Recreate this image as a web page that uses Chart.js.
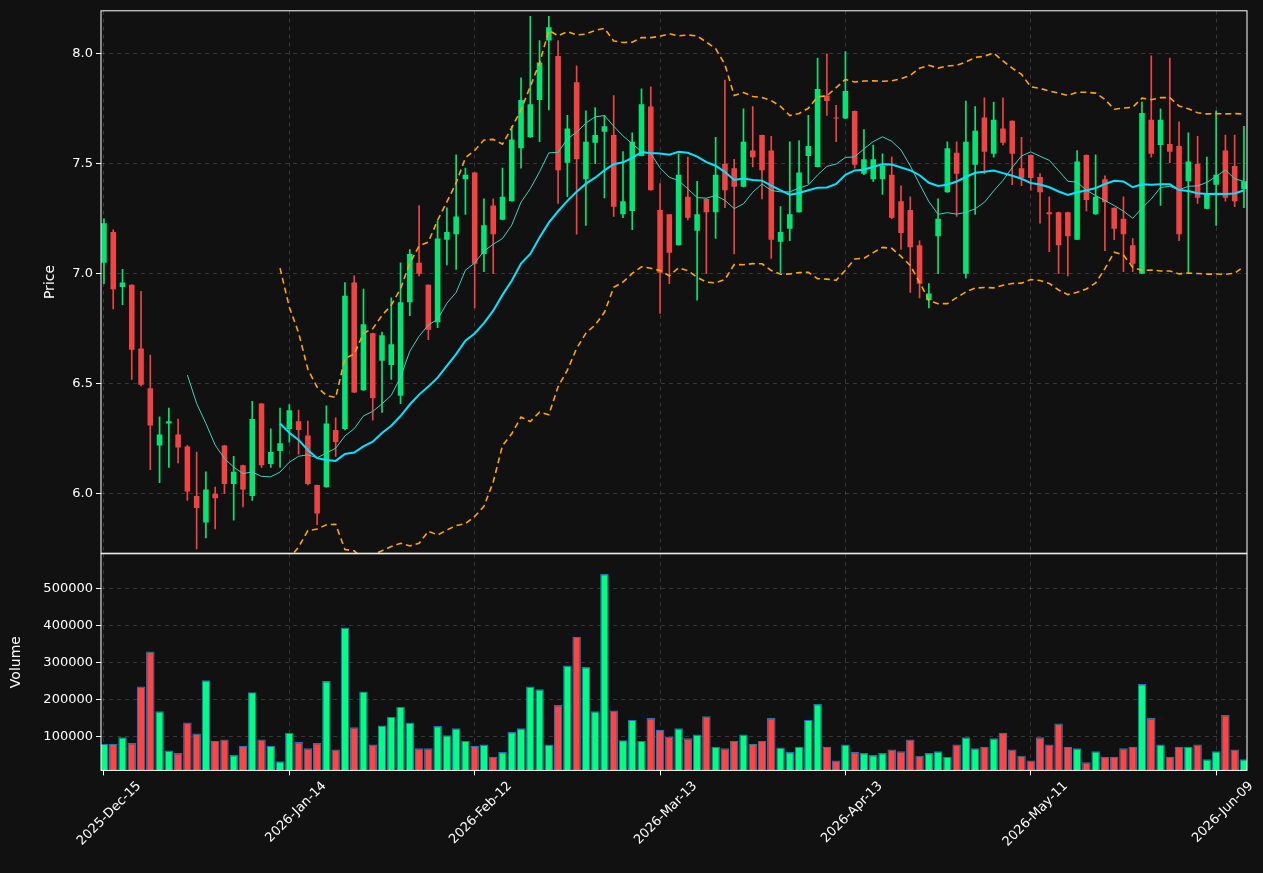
<!DOCTYPE html>
<html>
<head>
<meta charset="utf-8">
<script src="https://cdn.jsdelivr.net/npm/chart.js@4"></script>
<style>
  html, body { margin: 0; padding: 0; background: #111111; }
  #wrap { position: relative; width: 1263px; height: 873px; background: #111111; }
  #priceBox { position: absolute; left: 0; top: 0; width: 1263px; height: 564px; }
  #volBox { position: absolute; left: 0; top: 543px; width: 1263px; height: 330px; }
</style>
</head>
<body>
<div id="wrap">
  <div id="priceBox"><canvas id="priceChart"></canvas></div>
  <div id="volBox"><canvas id="volChart"></canvas></div>
</div>
<script>
// OHLC, one entry per trading day
const opens = [7.05,7.19,6.94,6.95,6.66,6.48,6.22,6.32,6.27,6.215,5.99,5.87,6.0,6.22,6.045,6.13,5.99,6.41,6.135,6.195,
  6.295,6.33,6.265,6.04,6.03,6.29,6.295,6.96,6.47,6.73,6.605,6.585,6.445,6.87,7.05,6.95,6.78,7.155,7.18,7.43,
  7.46,7.09,7.31,7.245,7.33,7.57,7.62,7.79,8.06,7.99,7.505,7.87,7.43,7.595,7.645,7.63,7.27,7.285,7.535,7.76,
  7.29,7.27,7.13,7.35,7.195,7.34,7.28,7.50,7.48,7.395,7.56,7.63,7.56,7.145,7.205,7.28,7.535,7.485,7.81,7.71,
  7.705,7.74,7.455,7.43,7.43,7.45,7.33,7.29,7.13,6.88,7.17,7.37,7.55,7.0,7.495,7.71,7.545,7.66,7.695,7.48,
  7.54,7.44,7.28,7.28,7.28,7.155,7.54,7.27,7.43,7.30,7.25,7.13,7.0,7.70,7.585,7.59,7.58,7.42,7.50,7.295,
  7.405,7.56,7.49,7.385];
const highs = [7.25,7.20,7.02,6.95,6.92,6.63,6.35,6.39,6.34,6.22,6.19,6.10,6.03,6.22,6.17,6.13,6.42,6.41,6.295,6.39,
  6.405,6.38,6.33,6.04,6.40,6.345,6.96,6.99,6.93,6.73,6.735,6.89,7.05,7.11,7.31,6.95,7.24,7.30,7.54,7.48,
  7.46,7.34,7.34,7.48,7.67,7.89,8.17,8.06,8.17,8.06,7.72,7.945,7.74,7.755,7.72,7.81,7.555,7.64,7.84,7.85,
  7.41,7.27,7.545,7.53,7.42,7.34,7.62,7.88,7.52,7.75,7.76,7.63,7.625,7.305,7.60,7.605,7.72,7.98,8.0,7.765,
  8.01,7.74,7.655,7.585,7.545,7.53,7.40,7.35,7.15,6.955,7.34,7.60,7.60,7.785,7.76,7.80,7.78,7.80,7.695,7.62,
  7.54,7.455,7.35,7.28,7.28,7.56,7.54,7.54,7.445,7.30,7.35,7.16,7.78,7.99,7.75,7.98,7.69,7.64,7.625,7.53,
  7.74,7.63,7.63,7.67];
const lows = [6.955,6.84,6.86,6.52,6.49,6.11,6.05,6.12,6.14,5.97,5.75,5.80,5.84,6.0,5.88,5.94,5.97,6.12,6.12,6.12,
  6.235,6.18,6.04,5.86,6.03,6.17,6.29,6.46,6.47,6.335,6.37,6.52,6.41,6.81,6.99,6.70,6.755,7.04,7.02,7.27,
  6.845,7.01,7.0,7.245,7.33,7.48,7.62,7.60,7.745,7.32,7.35,7.18,7.22,7.50,7.345,7.26,7.255,7.20,7.535,7.38,
  6.82,6.955,7.13,7.245,6.88,7.0,7.16,7.30,7.09,7.395,7.485,7.34,7.07,7.005,7.15,7.28,7.41,7.485,7.72,7.60,
  7.705,7.48,7.45,7.42,7.36,7.25,7.11,6.915,6.89,6.845,7.0,7.37,7.26,6.98,7.27,7.455,7.53,7.585,7.405,7.40,
  7.38,7.23,7.10,7.0,6.99,7.155,7.285,7.27,7.105,7.155,7.01,7.01,7.0,7.53,7.31,7.505,7.15,7.0,7.32,7.295,
  7.22,7.33,7.305,7.30];
const closes = [7.23,6.93,6.96,6.655,6.495,6.31,6.27,6.33,6.21,6.01,5.935,6.02,5.98,6.045,6.10,6.02,6.34,6.13,6.19,6.23,
  6.38,6.29,6.045,5.91,6.32,6.235,6.90,6.46,6.77,6.435,6.72,6.68,6.87,7.09,7.0,6.745,7.16,7.19,7.26,7.45,
  7.045,7.22,7.18,7.35,7.61,7.79,7.77,7.96,8.12,7.47,7.66,7.52,7.60,7.63,7.67,7.305,7.33,7.60,7.77,7.38,
  7.005,7.095,7.45,7.255,7.27,7.28,7.45,7.38,7.395,7.60,7.53,7.47,7.155,7.19,7.27,7.46,7.58,7.84,7.785,7.705,
  7.83,7.495,7.52,7.52,7.49,7.255,7.185,7.12,6.955,6.91,7.25,7.57,7.455,7.60,7.65,7.555,7.70,7.595,7.545,7.435,
  7.435,7.37,7.27,7.13,7.17,7.51,7.335,7.35,7.325,7.205,7.18,7.045,7.73,7.545,7.70,7.555,7.18,7.51,7.345,7.36,
  7.45,7.345,7.33,7.42];
const volumes = [80000,80000,98000,82000,235000,330000,168000,62000,55000,138000,108000,252000,88000,92000,50000,75000,220000,92000,75000,33000,
  110000,85000,68000,82000,250000,65000,395000,125000,222000,78000,130000,153000,180000,138000,68000,68000,128000,103000,122000,88000,
  75000,78000,45000,58000,112000,122000,235000,228000,78000,185000,292000,370000,288000,168000,540000,170000,90000,145000,88000,150000,
  118000,100000,122000,95000,105000,155000,72000,68000,88000,105000,80000,88000,150000,70000,58000,72000,145000,188000,72000,35000,
  78000,58000,55000,50000,55000,65000,60000,92000,48000,55000,60000,45000,78000,98000,68000,72000,95000,110000,65000,48000,
  35000,98000,78000,135000,72000,68000,30000,60000,45000,45000,68000,72000,242000,150000,78000,45000,72000,72000,78000,38000,
  60000,158000,65000,38000];

const firstDay = '2025-12-15';
const holidays = ['2025-12-25','2026-01-01','2026-01-19','2026-02-16','2026-04-03','2026-05-25'];
const tickEvery = 20;
const priceTicks = [6.0, 6.5, 7.0, 7.5, 8.0];
const volTicks = [100000, 200000, 300000, 400000, 500000];

const MON = ['Jan','Feb','Mar','Apr','May','Jun','Jul','Aug','Sep','Oct','Nov','Dec'];
function tradingDays(start, n) {
    const out = [];
    const d = new Date(start + 'T00:00:00Z');
    while (out.length < n) {
        const iso = d.toISOString().slice(0, 10);
        const wd = d.getUTCDay();
        if (wd !== 0 && wd !== 6 && !holidays.includes(iso)) {
            out.push(d.getUTCFullYear() + '-' + MON[d.getUTCMonth()] + '-' + String(d.getUTCDate()).padStart(2, '0'));
        }
        d.setUTCDate(d.getUTCDate() + 1);
    }
    return out;
}
const dates = tradingDays(firstDay, closes.length);

// indicators from the closes
function sma(arr, n) {
    return arr.map((_, i) => {
        if (i < n - 1) return null;
        let s = 0;
        for (let k = i - n + 1; k <= i; k++) s += arr[k];
        return s / n;
    });
}
function band(arr, n, mult) {
    const m = sma(arr, n);
    return arr.map((_, i) => {
        if (m[i] === null) return null;
        let v = 0;
        for (let k = i - n + 1; k <= i; k++) v += (arr[k] - m[i]) ** 2;
        return m[i] + mult * Math.sqrt(v / n);
    });
}
const ma10 = sma(closes, 10);
const ma20 = sma(closes, 20);
const bbUp = band(closes, 20, 2);
const bbDn = band(closes, 20, -2);

const GREEN = '#00e676';
const RED = '#f04444';
const VGREEN = '#00ff80';
const VRED = '#ff4444';
const isUp = closes.map((c, i) => c >= opens[i]);

Chart.defaults.font.family = 'DejaVu Sans';
Chart.defaults.color = '#ffffff';
Chart.defaults.animation = false;

const gridColor = 'rgba(255,255,255,0.16)';
const xMin = -0.32, xMax = 123.33;

const frame = {
    id: 'frame',
    afterDraw(chart) {
        const a = chart.chartArea, c = chart.ctx;
        c.save();
        c.strokeStyle = '#ffffff';
        c.lineWidth = 1;
        c.strokeRect(a.left, a.top, a.right - a.left, a.bottom - a.top);
        c.restore();
    }
};

function xAxis(showTicks) {
    const ax = {
        type: 'linear', min: xMin, max: xMax, offset: false, bounds: 'data',
        afterBuildTicks(s) {
            const t = [];
            for (let v = 0; v < closes.length; v += tickEvery) t.push({ value: v });
            s.ticks = t;
        },
        ticks: {
            display: showTicks,
            color: '#ffffff',
            font: { size: 13 },
            maxRotation: 45, minRotation: 45,
            labelOffset: 35,
            callback: v => dates[v] || ''
        },
        grid: { color: gridColor, tickLength: 5, drawTicks: showTicks, tickColor: '#ffffff', offset: false },
        border: { dash: [4, 4], display: false }
    };
    if (!showTicks) ax.afterFit = s => { s.height = 0; };
    return ax;
}

const pts = a => a.map((v, i) => ({ x: i, y: v }));

new Chart(document.getElementById('priceChart'), {
    data: {
        datasets: [
            { type: 'line', label: 'BB upper', data: pts(bbUp), borderColor: '#ffa500', borderWidth: 1.6, borderDash: [6, 4], pointRadius: 0, order: 0 },
            { type: 'line', label: 'BB lower', data: pts(bbDn), borderColor: '#ffa500', borderWidth: 1.6, borderDash: [6, 4], pointRadius: 0, order: 0 },
            { type: 'line', label: 'MA20', data: pts(ma20), borderColor: '#00e5ff', borderWidth: 2, pointRadius: 0, order: 1 },
            { type: 'line', label: 'MA10', data: pts(ma10), borderColor: '#40d0c0', borderWidth: 1, pointRadius: 0, order: 1 },
            { type: 'bar', label: 'body', data: opens.map((o, i) => ({ x: i, y: [o, closes[i] === o ? o + 0.004 : closes[i]] })),
              backgroundColor: isUp.map(u => u ? GREEN : RED), barPercentage: 0.6, categoryPercentage: 1, grouped: false, order: 2 },
            { type: 'bar', label: 'wick', data: highs.map((h, i) => ({ x: i, y: [lows[i], h] })),
              backgroundColor: isUp.map(u => u ? GREEN : RED), barThickness: 1, grouped: false, order: 3 }
        ]
    },
    options: {
        responsive: true, maintainAspectRatio: false,
        layout: { padding: { top: 10, right: 16, bottom: 1, left: 38 } },
        plugins: { legend: { display: false }, tooltip: { enabled: false } },
        scales: {
            x: xAxis(false),
            y: {
                min: 5.73, max: 8.195,
                afterBuildTicks(s) { s.ticks = priceTicks.map(v => ({ value: v })); },
                afterFit(s) { s.width = 63; },
                ticks: { color: '#ffffff', font: { size: 13 }, callback: v => v.toFixed(1) },
                title: { display: true, text: 'Price', color: '#ffffff', font: { size: 14 } },
                grid: { color: gridColor, tickColor: '#ffffff', tickLength: 5 },
                border: { dash: [4, 4], display: false }
            }
        }
    },
    plugins: [frame]
});

new Chart(document.getElementById('volChart'), {
    type: 'bar',
    data: {
        datasets: [{
            label: 'Volume', data: pts(volumes),
            backgroundColor: isUp.map(u => u ? VGREEN : VRED),
            borderColor: '#1f77b4', borderWidth: 1.2,
            barPercentage: 0.92, categoryPercentage: 1
        }]
    },
    options: {
        responsive: true, maintainAspectRatio: false,
        layout: { padding: { top: 1, right: 16, bottom: 20, left: 4 } },
        plugins: { legend: { display: false }, tooltip: { enabled: false } },
        scales: {
            x: xAxis(true),
            y: {
                min: 8100, max: 594600,
                afterBuildTicks(s) { s.ticks = volTicks.map(v => ({ value: v })); },
                afterFit(s) { s.width = 97; },
                ticks: { color: '#ffffff', font: { size: 13 }, callback: v => String(v) },
                title: { display: true, text: 'Volume', color: '#ffffff', font: { size: 14 } },
                grid: { color: gridColor, tickColor: '#ffffff', tickLength: 5 },
                border: { dash: [4, 4], display: false }
            }
        }
    },
    plugins: [frame]
});
</script>
</body>
</html>
